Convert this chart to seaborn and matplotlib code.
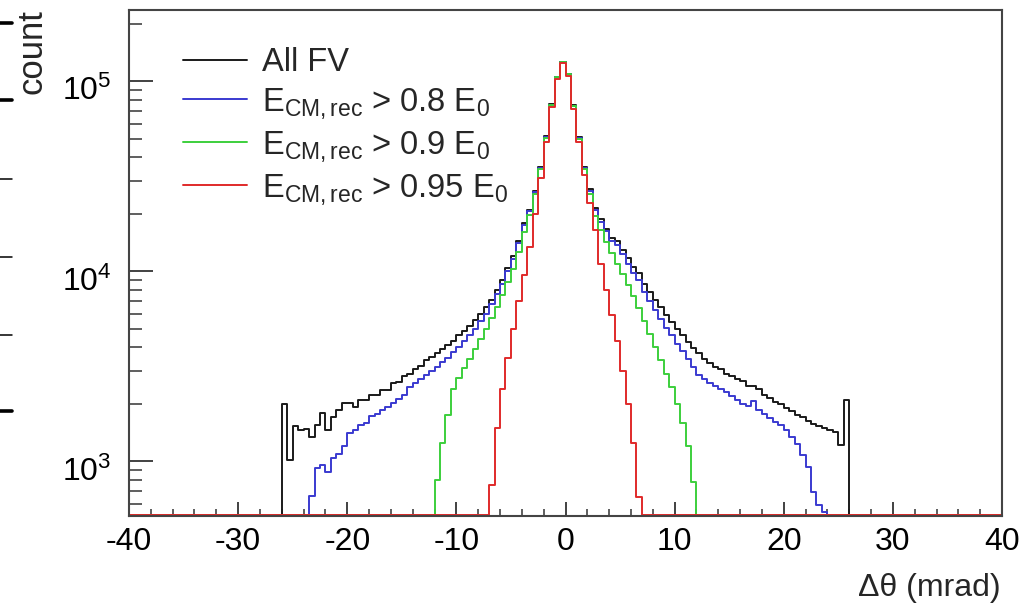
import numpy as np
import pandas as pd
import matplotlib
matplotlib.use("Agg")
import matplotlib.pyplot as plt
import matplotlib.transforms as mtransforms
import seaborn as sns
from matplotlib.ticker import MultipleLocator, LogLocator, NullFormatter
from matplotlib.lines import Line2D

# ---------------- data (counts per 0.5 mrad bin) ----------------
bin_width = 0.5
x_min, x_max = -40.0, 40.0

allfv_start = -26.0
allfv_counts = [
    2000, 1020, 1530, 1470, 1480, 1350, 1560, 1800, 1460, 1720,
    1870, 2030, 2030, 1940, 2110, 2110, 2240, 2240, 2380, 2380,
    2600, 2620, 2800, 2900, 3080, 3180, 3400, 3550, 3720, 3900,
    4080, 4300, 4600, 4850, 5150, 5550, 6000, 6500, 7100, 8000,
    9000, 10400, 12000, 14500, 18000, 21000, 26500, 35500, 51500, 76000,
    106000, 127000, 110000, 75000, 51000, 35500, 27000, 21500, 18800, 16800,
    15000, 14500, 13000, 11800, 10600, 9800, 8600, 7800, 7100, 6500,
    5900, 5400, 5000, 4600, 4250, 3950, 3700, 3450, 3280, 3150,
    3050, 2900, 2800, 2700, 2650, 2500, 2480, 2400, 2250, 2150,
    2050, 2000, 1900, 1840, 1760, 1720, 1640, 1580, 1540, 1500,
    1460, 1430, 1220, 2100,
]

e08_start = -23.5
e08_counts = [
    655, 926, 960, 880, 1045, 1100, 1200, 1415, 1470, 1550,
    1600, 1725, 1780, 1870, 1940, 2030, 2120, 2250, 2450, 2600,
    2700, 2850, 3000, 3150, 3330, 3520, 3750, 4000, 4300, 4600,
    5000, 5450, 6000, 6700, 7600, 8600, 10000, 11600, 14100, 17600,
    20700, 26200, 35200, 51000, 75500, 105500, 126500, 109500, 74500, 50600,
    35200, 26600, 21100, 18300, 16300, 14400, 13800, 12300, 11000, 9800,
    9000, 7800, 7000, 6300, 5650, 5050, 4600, 4150, 3800, 3450,
    3150, 2850, 2700, 2600, 2500, 2400, 2320, 2200, 2100, 2000,
    1950, 2080, 1870, 1780, 1700, 1620, 1550, 1470, 1350, 1230,
    1080, 940, 690, 590, 540,
]

e09_start = -12.0
e09_counts = [
    800, 1250, 1750, 2400, 2750, 3100, 3450, 3900, 4400, 5000,
    5700, 6500, 7500, 8800, 10300, 12700, 16200, 19800, 25500, 34500,
    50500, 75000, 105000, 126000, 109000, 74000, 50000, 34500, 25500, 19500,
    16500, 14300, 12500, 11000, 9700, 8500, 7400, 6400, 5500, 4700,
    4000, 3400, 2900, 2450, 2000, 1600, 1200, 780,
]

e095_start = -7.0
e095_counts = [
    750, 1500, 2400, 3500, 5000, 7000, 9600, 13500, 20000, 31000,
    48000, 73000, 103000, 125000, 107000, 72000, 48000, 32000, 23000, 16500,
    11000, 8000, 5900, 4300, 3000, 2000, 1250, 650,
]

series_names = ["All FV",
                r"E$_{\mathrm{CM,rec}}$ > 0.8 E$_0$",
                r"E$_{\mathrm{CM,rec}}$ > 0.9 E$_0$",
                r"E$_{\mathrm{CM,rec}}$ > 0.95 E$_0$"]
series_starts = [allfv_start, e08_start, e09_start, e095_start]
series_counts = [allfv_counts, e08_counts, e09_counts, e095_counts]
series_colors = ["#1a1a1a", "#3a3ad0", "#3ccf3c", "#e02a2a"]

y_limits = (518, 239000)
empty_bin_level = 525   # empty bins sit on the lower frame, as ROOT draws them
x_ticks_major, x_ticks_minor = 10, 2

# ---------------- style ----------------
sns.set_theme(style="white")
plt.rcParams["font.family"] = ["Liberation Sans", "DejaVu Sans"]
plt.rcParams["mathtext.fontset"] = "custom"
plt.rcParams["mathtext.rm"] = "Liberation Sans"
plt.rcParams["mathtext.it"] = "Liberation Sans:italic"
plt.rcParams["mathtext.bf"] = "Liberation Sans:bold"
plt.rcParams["axes.unicode_minus"] = False

n_bins = int(round((x_max - x_min) / bin_width))
centers = x_min + bin_width * (np.arange(n_bins) + 0.5)

frames = []
for name, start, counts in zip(series_names, series_starts, series_counts):
    full = np.zeros(n_bins)
    i0 = int(round((start - x_min) / bin_width))
    full[i0:i0 + len(counts)] = counts
    full = np.where(full > 0, full, empty_bin_level)
    frames.append(pd.DataFrame({"dtheta": centers, "count": full, "series": name}))
df = pd.concat(frames, ignore_index=True)

fig = plt.figure(figsize=(10.32, 6.05), dpi=100)
ax = fig.add_axes([129 / 1032, 1 - 515.7 / 605, 873 / 1032, 506.2 / 605])

for name, color in zip(series_names, series_colors):
    sub = df[df["series"] == name]
    sns.histplot(data=sub, x="dtheta", weights="count", binwidth=bin_width,
                 binrange=(x_min, x_max), element="step", fill=False,
                 color=color, linewidth=1.4, ax=ax, legend=False)

ax.set_yscale("log")
ax.set_xlim(x_min, x_max)
ax.set_ylim(*y_limits)

ax.xaxis.set_major_locator(MultipleLocator(x_ticks_major))
ax.xaxis.set_minor_locator(MultipleLocator(x_ticks_minor))
ax.yaxis.set_major_locator(LogLocator(base=10))
ax.yaxis.set_minor_locator(LogLocator(base=10, subs=np.arange(2, 10)))
ax.yaxis.set_minor_formatter(NullFormatter())

ax.tick_params(axis="both", which="both", direction="in", colors="#333333",
               labelcolor="black", labelsize=23, top=False, right=False,
               bottom=True, left=True)
ax.tick_params(axis="y", which="major", length=17, width=1.3, pad=12.5)
ax.tick_params(axis="y", which="minor", length=9, width=1.1)
ax.tick_params(axis="x", which="major", length=10, width=1.3, pad=8)
ax.tick_params(axis="x", which="minor", length=5, width=1.1)

for sp in ax.spines.values():
    sp.set_color("#444444")
    sp.set_linewidth(1.5)

ax.set_ylabel("count", loc="top", fontsize=25)
ax.yaxis.set_label_coords(-0.092, 1.0)
ax.set_xlabel("Δθ (mrad)", loc="right", fontsize=23)
ax.xaxis.set_label_coords(0.998, -0.113)

handles = [Line2D([0], [0], color=c, lw=1.4) for c in series_colors]
ax.legend(handles, series_names, loc="upper left", bbox_to_anchor=(0.062, 0.925),
          frameon=False, fontsize=23.5, handlelength=1.95, handletextpad=0.48,
          labelspacing=0.24, borderpad=0, borderaxespad=0)

# y tick labels sit a little below their ticks in the reference
fig.canvas.draw()
shift = mtransforms.ScaledTranslation(0, -5 / 72, fig.dpi_scale_trans)
for t in ax.yaxis.get_major_ticks():
    t.label1.set_transform(t.label1.get_transform() + shift)

# tick marks of the neighbouring panel cut off at the left edge of the picture
for ypix, lw in [(23, 2.6), (100, 2.6), (179, 1.1), (257, 1.1), (335, 1.1), (411, 2.6)]:
    fig.add_artist(Line2D([0, 12 / 1032], [1 - ypix / 605] * 2, color="black", lw=lw,
                          transform=fig.transFigure))

fig.savefig("out.png", dpi=100)
